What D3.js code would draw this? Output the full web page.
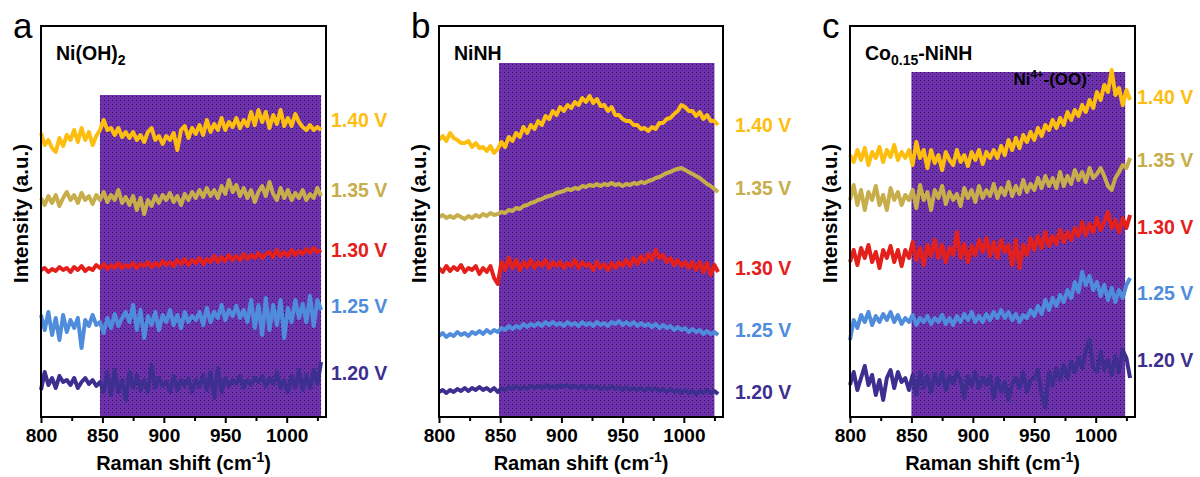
<!DOCTYPE html>
<html>
<head>
<meta charset="utf-8">
<script src="https://cdn.jsdelivr.net/npm/d3@7"></script>
<style>
  body { margin: 0; background: #fff; }
  svg text { font-family: "Liberation Sans", Arial, sans-serif; }
</style>
</head>
<body>
<svg id="chart" width="1200" height="477"></svg>
<script>
// Raman spectra recorded at increasing potentials, sampled every 3 cm-1 from 800 cm-1.
const shiftStart = 800;
const shiftStep = 3;

const voltages = ["1.20 V", "1.25 V", "1.30 V", "1.35 V", "1.40 V"];
const seriesColors = ["#3D2F8F", "#4F8DDC", "#E4201C", "#C7AE4B", "#FDBE10"];
const xTickMajor = [800, 850, 900, 950, 1000];
const xTickMinor = [825, 875, 925, 975, 1025];

// Ni(OH)2
const niOH2_120 = [27,45,32,39,29,41,35,37,32,39,29,35,39,33,37,31,35,25,45,22,47,25,37,17,45,29,42,27,37,25,52,29,39,31,35,25,41,27,37,31,39,25,37,30,42,27,45,19,49,25,39,31,37,33,41,29,37,32,39,35,41,31,39,33,45,29,37,25,41,29,47,27,42,29,47,33,55];
const niOH2_125 = [102,87,105,82,99,77,102,85,97,89,99,69,97,91,102,92,95,84,99,89,103,91,99,105,95,112,87,107,79,101,92,105,87,102,95,107,92,102,89,105,95,101,97,105,92,109,95,105,99,112,97,107,101,111,99,107,95,117,89,112,82,119,87,112,92,117,79,109,95,117,99,113,95,121,91,117,107];
const niOH2_130 = [147,149,145,148,146,150,147,149,145,150,147,151,146,149,147,152,149,153,148,152,149,154,149,152,150,154,149,153,151,155,150,154,151,156,152,155,151,157,153,158,152,157,154,159,153,158,155,161,155,160,156,162,157,161,157,163,158,162,159,164,159,163,165,160,167,161,165,161,167,162,166,163,168,164,169,165,167];
const niOH2_135 = [219,212,221,214,222,211,219,225,217,222,214,224,217,221,213,222,217,225,215,222,217,227,214,220,212,221,207,219,203,217,211,221,214,222,217,224,215,221,212,223,217,225,219,227,220,229,221,227,219,231,223,237,225,232,221,229,219,227,215,225,231,221,235,223,217,229,219,227,217,224,219,227,217,223,219,229,221];
const niOH2_140 = [284,272,277,269,265,279,271,282,277,287,275,289,277,285,272,281,287,297,287,289,282,289,280,285,279,285,277,282,275,285,289,277,281,273,281,277,284,267,287,291,279,289,283,292,282,297,285,293,287,299,287,295,290,299,289,297,291,305,292,307,295,305,289,302,293,307,291,299,291,303,295,290,287,292,287,290,287];

// NiNH
const niNH_120 = [25,27,24,27,25,28,26,29,26,29,27,30,27,29,26,29,25,29,27,30,28,31,28,30,28,31,29,31,29,32,29,31,29,32,30,32,29,31,29,31,28,31,29,31,28,30,28,31,28,30,27,30,27,29,27,29,26,29,27,29,26,28,25,28,25,27,24,27,24,26,23,26,24,27,24,26,23];
const niNH_125 = [81,84,80,83,81,85,82,84,81,85,83,86,83,87,84,87,85,89,87,91,88,91,89,93,90,93,91,94,91,95,92,95,92,94,91,95,92,94,91,95,92,94,91,95,92,94,91,95,93,96,92,95,92,95,91,94,91,93,90,93,89,92,89,91,87,90,87,89,85,88,85,87,83,86,83,85,82];
const niNH_130 = [149,145,151,146,150,147,152,145,149,147,151,143,149,145,151,139,133,155,147,159,149,157,147,155,150,157,149,155,151,157,149,155,151,155,149,154,151,157,149,155,151,153,147,155,149,153,147,154,149,155,151,157,151,159,153,161,155,163,157,167,159,162,155,159,152,157,151,155,149,155,147,155,145,154,142,152,145];
const niNH_135 = [200,202,199,201,199,202,200,198,201,199,202,200,203,201,204,202,203,205,204,207,206,209,208,211,212,214,215,217,218,220,221,222,224,225,226,228,227,229,228,231,230,232,231,233,231,233,232,234,232,233,231,233,232,234,233,235,234,236,237,239,240,242,244,245,247,248,249,247,245,243,241,239,236,233,231,228,225];
const niNH_140 = [277,281,276,284,279,277,274,274,276,270,274,269,270,266,271,264,268,275,270,280,276,284,280,290,284,292,288,296,292,301,298,306,302,310,306,312,309,315,312,319,315,321,314,318,311,312,306,310,302,302,298,296,296,292,292,288,289,286,290,288,294,294,298,299,303,306,312,310,306,306,301,305,298,302,296,296,292];

// Co0.15-NiNH
const coNiNH_120 = [32,45,27,39,51,32,42,22,37,17,39,47,29,45,35,39,27,42,22,45,29,41,25,43,32,45,27,41,33,45,37,19,41,31,45,29,39,32,41,19,39,25,35,17,33,39,29,45,25,37,39,47,22,9,45,32,49,37,52,39,55,45,59,49,67,77,49,45,65,47,57,42,61,45,67,59,39];
const coNiNH_125 = [77,97,89,102,95,105,92,101,95,103,97,105,95,102,93,99,95,102,92,99,95,101,93,99,95,102,93,99,92,101,95,103,97,105,95,101,95,103,97,105,99,107,99,105,97,103,95,102,99,107,101,111,103,117,107,119,111,122,115,127,119,135,125,145,132,141,127,135,121,132,117,129,115,127,119,132,139];
const coNiNH_130 = [155,167,152,169,159,172,155,165,149,167,159,171,155,167,151,167,159,175,157,169,152,172,161,177,159,172,155,169,162,185,159,173,155,171,162,177,165,179,161,175,159,177,165,172,152,177,149,172,162,179,167,181,169,185,171,181,173,187,175,185,177,189,181,195,182,193,185,199,187,195,205,189,197,185,199,189,202];
const coNiNH_135 = [217,232,212,227,207,225,217,231,212,222,207,229,217,225,212,222,217,227,209,232,217,225,207,227,219,231,213,225,217,223,211,229,219,227,215,231,219,227,221,233,219,229,222,235,221,231,223,237,225,233,227,239,229,241,231,239,229,245,231,241,233,247,237,245,235,249,239,243,249,241,231,227,239,245,252,249,259];
const coNiNH_140 = [262,255,267,257,269,252,265,259,270,255,267,260,272,257,265,259,267,252,275,259,267,249,267,254,262,247,265,257,252,267,255,262,251,265,257,267,253,265,259,267,259,271,262,277,267,279,269,282,275,285,277,289,281,292,287,297,289,299,292,305,297,307,301,312,305,317,309,325,317,332,325,347,322,329,312,327,317];

// Panel layout: frame edges, highlighted window and where each potential label sits.
const panels = [
  { letter: "a", left: 41, right: 326, title: [["Ni(OH)", 0], ["2", 1]],
    spectra: [niOH2_120, niOH2_125, niOH2_130, niOH2_135, niOH2_140],
    band: [848, 1028], bandTop: 322, labelLevels: [44, 111, 167, 227, 297], labelGap: 5 },
  { letter: "b", left: 439, right: 723, title: [["NiNH", 0]],
    spectra: [niNH_120, niNH_125, niNH_130, niNH_135, niNH_140],
    band: [849, 1025], bandTop: 354, labelLevels: [25, 87, 149, 229, 292], labelGap: 12 },
  { letter: "c", left: 850, right: 1135, title: [["Co", 0], ["0.15", 1], ["-NiNH", 0]],
    spectra: [coNiNH_120, coNiNH_125, coNiNH_130, coNiNH_135, coNiNH_140],
    band: [850, 1024], bandTop: 345, labelLevels: [57, 124, 190, 257, 320], labelGap: 2,
    note: true }
];

const frameTop = 26, frameBottom = 417;
const svg = d3.select("#chart");

// Stippled purple fill for the highlighted window
const defs = svg.append("defs");
const pat = defs.append("pattern").attr("id", "stipple")
  .attr("width", 4).attr("height", 4).attr("patternUnits", "userSpaceOnUse");
pat.append("rect").attr("width", 4).attr("height", 4).attr("fill", "#6E32AC");
pat.append("rect").attr("x", 0).attr("y", 0).attr("width", 1).attr("height", 1).attr("fill", "#2a1248");
pat.append("rect").attr("x", 2).attr("y", 2).attr("width", 1).attr("height", 1).attr("fill", "#53248e");

panels.forEach(p => {
  const x = d3.scaleLinear().domain([800, 1032]).range([p.left, p.right]);
  const y = d3.scaleLinear().domain([0, frameBottom - frameTop]).range([frameBottom, frameTop]);
  const g = svg.append("g");

  // highlighted window
  g.append("rect")
    .attr("x", x(p.band[0])).attr("width", x(p.band[1]) - x(p.band[0]))
    .attr("y", y(p.bandTop)).attr("height", y(0) - y(p.bandTop))
    .attr("fill", "url(#stipple)");

  // spectra
  const line = d3.line()
    .x((d, i) => x(shiftStart + i * shiftStep))
    .y(d => y(d))
    .curve(d3.curveLinear);
  p.spectra.forEach((s, k) => {
    g.append("path").datum(s)
      .attr("d", line)
      .attr("fill", "none")
      .attr("stroke", seriesColors[k])
      .attr("stroke-width", 4)
      .attr("stroke-linejoin", "round");
  });

  // frame
  g.append("rect")
    .attr("x", p.left).attr("y", frameTop)
    .attr("width", p.right - p.left).attr("height", frameBottom - frameTop)
    .attr("fill", "none").attr("stroke", "#000").attr("stroke-width", 2);

  // x axis: major ticks with labels, minor ticks without
  const major = g.append("g").attr("transform", `translate(0,${frameBottom})`)
    .call(d3.axisBottom(x).tickValues(xTickMajor).tickSize(6).tickPadding(6).tickFormat(d3.format("d")));
  const minor = g.append("g").attr("transform", `translate(0,${frameBottom})`)
    .call(d3.axisBottom(x).tickValues(xTickMinor).tickSize(4).tickFormat(""));
  [major, minor].forEach(a => {
    a.select(".domain").remove();
    a.selectAll("line").attr("stroke", "#000").attr("stroke-width", 2);
  });
  major.selectAll("text")
    .attr("fill", "#000").attr("font-size", 19).attr("font-weight", "bold")
    .attr("font-family", "Liberation Sans, Arial, sans-serif");

  // x title
  const xt = g.append("text")
    .attr("x", (p.left + p.right) / 2).attr("y", 470)
    .attr("text-anchor", "middle").attr("font-size", 20).attr("font-weight", "bold");
  xt.append("tspan").text("Raman shift (cm");
  xt.append("tspan").attr("font-size", 14).attr("dy", -8).text("-1");
  xt.append("tspan").attr("dy", 8).text(")");

  // y title
  g.append("text")
    .attr("transform", `translate(${p.left - 13},${(frameTop + frameBottom) / 2 - 8}) rotate(-90)`)
    .attr("text-anchor", "middle").attr("font-size", 20.5).attr("font-weight", "bold")
    .text("Intensity (a.u.)");

  // panel letter
  g.append("text")
    .attr("x", p.left - 28).attr("y", 38)
    .attr("font-size", 35).text(p.letter);

  // sample name
  const st = g.append("text")
    .attr("x", p.left + 15).attr("y", 60)
    .attr("font-size", 19.5).attr("font-weight", "bold");
  p.title.forEach(([t, sub], i) => {
    const ts = st.append("tspan").text(t);
    if (sub) ts.attr("font-size", 14).attr("dy", 5);
    else if (i > 0) ts.attr("dy", -5);
  });

  // potential labels
  voltages.forEach((v, k) => {
    g.append("text")
      .attr("x", p.right + p.labelGap).attr("y", y(p.labelLevels[k]) + 7)
      .attr("fill", seriesColors[k])
      .attr("font-size", 19.5).attr("font-weight", "bold")
      .text(v);
  });

  if (p.note) {
    const nt = g.append("text")
      .attr("x", x(933)).attr("y", 85)
      .attr("font-size", 17).attr("font-weight", "bold");
    nt.append("tspan").text("Ni");
    nt.append("tspan").attr("font-size", 11.5).attr("dy", -7).text("4+");
    nt.append("tspan").attr("dy", 7).text("-(OO)");
    nt.append("tspan").attr("font-size", 11.5).attr("dy", -7).text("-");
  }
});
</script>
</body>
</html>
